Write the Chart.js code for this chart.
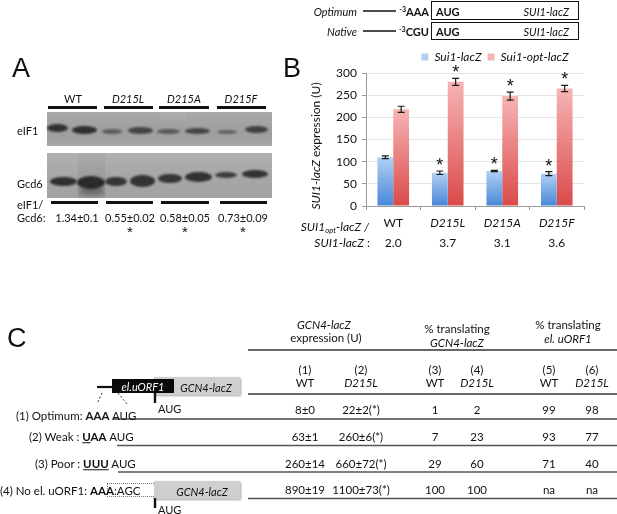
<!DOCTYPE html>
<html><head><meta charset="utf-8">
<script src="https://cdn.jsdelivr.net/npm/chart.js@4.4.1/dist/chart.umd.min.js"></script>
<style>
html,body{margin:0;padding:0;background:#fff;}
body{width:617px;height:514px;position:relative;overflow:hidden;font-family:Lato,'Open Sans',sans-serif;color:#111;}
.t{position:absolute;white-space:nowrap;line-height:1;}
.t sub{font-size:0.65em;vertical-align:-0.25em;line-height:0;}
.t sup{font-size:0.65em;vertical-align:0.45em;line-height:0;}
#chartWrap{position:absolute;left:300px;top:45px;width:317px;height:215px;}
#lines{position:absolute;left:0;top:0;z-index:3;}
.blk{position:absolute;}
.band{position:absolute;border-radius:50%;background:#262626;filter:blur(1.3px);}
</style></head><body>
<svg id="lines" width="617" height="514"></svg>
<div id="chartWrap"><canvas id="c" width="317" height="215"></canvas></div>
<script>
// ---------- Panel B data ----------
const categories = ['WT', 'D215L', 'D215A', 'D215F'];
const seriesNames = ['Sui1-lacZ', 'Sui1-opt-lacZ'];
const sui1Values = [110, 75, 79, 73];
const sui1Errors = [3, 4, 1.5, 4.5];
const sui1OptValues = [218, 280, 248, 265];
const sui1OptErrors = [7, 8, 9, 7];
const sui1Significant = [false, true, true, true];
const sui1OptSignificant = [false, true, true, true];
const ratioLabels = ['2.0', '3.7', '3.1', '3.6'];
const yMin = 0, yMax = 300, yStep = 50;

// ---------- Panel A data ----------
const blotGroups = ['WT', 'D215L', 'D215A', 'D215F'];
const eif1Gcd6Ratios = ['1.34±0.1', '0.55±0.02', '0.58±0.05', '0.73±0.09'];
const eif1Significant = [false, true, true, true];

// ---------- Panel C data ----------
const gcn4WT = ['8±0', '63±1', '260±14', '890±19'];
const gcn4D215L = ['22±2(*)', '260±6(*)', '660±72(*)', '1100±73(*)'];
const pctGcn4WT = ['1', '7', '29', '100'];
const pctGcn4D215L = ['2', '23', '60', '100'];
const pctUorfWT = ['99', '93', '71', 'na'];
const pctUorfD215L = ['98', '77', '40', 'na'];

// ---------- helpers ----------
function T(x, y, html, o = {}) {
  const d = document.createElement('div');
  d.className = 't';
  d.innerHTML = html;
  const a = o.a || 'c';
  d.style.left = x + 'px';
  d.style.top = y + 'px';
  d.style.fontSize = (o.s || 11.5) + 'px';
  if (o.i) d.style.fontStyle = 'italic';
  if (o.b) d.style.fontWeight = 'bold';
  if (o.f) d.style.fontFamily = o.f;
  if (o.c) d.style.color = o.c;
  d.style.zIndex = o.z || 4;
  let tr = `translate(${a === 'c' ? '-50%' : a === 'r' ? '-100%' : '0'},-50%)`;
  if (o.rot) tr += ` rotate(${o.rot}deg)`;
  d.style.transform = tr;
  document.body.appendChild(d);
  return d;
}
function B(x, y, w, h, style) {
  const d = document.createElement('div');
  d.className = 'blk';
  d.style.cssText += `left:${x}px;top:${y}px;width:${w}px;height:${h}px;` + (style || '');
  document.body.appendChild(d);
  return d;
}
const svg = document.getElementById('lines');
function L(x1, y1, x2, y2, w = 1.3, c = '#444', dash) {
  const l = document.createElementNS('http://www.w3.org/2000/svg', 'line');
  l.setAttribute('x1', x1); l.setAttribute('y1', y1);
  l.setAttribute('x2', x2); l.setAttribute('y2', y2);
  l.setAttribute('stroke', c); l.setAttribute('stroke-width', w);
  if (dash) l.setAttribute('stroke-dasharray', dash);
  svg.appendChild(l);
}
function R(x, y, w, h, sw = 1, c = '#111') {
  const r = document.createElementNS('http://www.w3.org/2000/svg', 'rect');
  r.setAttribute('x', x); r.setAttribute('y', y);
  r.setAttribute('width', w); r.setAttribute('height', h);
  r.setAttribute('fill', 'none'); r.setAttribute('stroke', c); r.setAttribute('stroke-width', sw);
  svg.appendChild(r);
}

// ---------- Panel letters ----------
T(12, 68, 'A', { a: 'l', s: 27, f: '"Liberation Sans",Arial,sans-serif' });
T(283, 68, 'B', { a: 'l', s: 27, f: '"Liberation Sans",Arial,sans-serif' });
T(7, 338, 'C', { a: 'l', s: 27, f: '"Liberation Sans",Arial,sans-serif' });

// ---------- Top-right construct diagram ----------
T(357, 11, 'Optimum', { a: 'r', i: 1, s: 11 });
T(357, 31, 'Native', { a: 'r', i: 1, s: 11 });
L(363, 11, 396, 11, 1.6, '#111');
L(363, 31, 396, 31, 1.6, '#111');
T(429, 11, '<sup>-3</sup>AAA', { a: 'r', b: 1, s: 11 });
T(429, 31, '<sup>-3</sup>CGU', { a: 'r', b: 1, s: 11 });
R(431.5, 1.5, 147, 18);
R(431.5, 22.5, 147, 17);
T(436, 11, 'AUG', { a: 'l', b: 1, s: 11 });
T(436, 31, 'AUG', { a: 'l', b: 1, s: 11 });
T(569, 11, 'SUI1-lacZ', { a: 'r', i: 1, s: 11 });
T(569, 31, 'SUI1-lacZ', { a: 'r', i: 1, s: 11 });

// ---------- Panel A: western blot ----------
const groupCenters = [73, 128, 184, 241];
const topBars = [[48, 97], [104, 153], [159, 209], [217, 266]];
const botBars = [[51, 98], [106, 153], [161, 209], [220, 267]];
const valCenters = [77, 130, 185, 243];
blotGroups.forEach((g, i) => {
  T(groupCenters[i], 98, g, { s: 11, i: i > 0 });
  B(topBars[i][0], 105.5, topBars[i][1] - topBars[i][0], 3.2, 'background:#111;');
  B(botBars[i][0], 201, botBars[i][1] - botBars[i][0], 3.2, 'background:#111;');
  T(valCenters[i], 216.5, eif1Gcd6Ratios[i], { s: 11 });
  if (eif1Significant[i]) T(valCenters[i], 231, '*', { s: 15, f: '"Liberation Sans",Arial,sans-serif' });
});
B(47, 112, 225, 34, 'background:linear-gradient(#a9a9a9,#9e9e9e 60%,#a6a6a6);');
B(47, 153, 225, 45, 'background:linear-gradient(#b0b0b0,#a7a7a7 50%,#a2a2a2);');
B(78, 153, 27, 45, 'background:linear-gradient(rgba(0,0,0,0.03),rgba(0,0,0,0.09));');
B(160, 112, 26, 8, 'background:rgba(255,255,255,0.05);');
const eifBands = [[47,68,124,132,0.9],[72,97,126,134,0.92],[102,122,129,134,0.55],[128,153,127,134,0.75],[157,180,129,134,0.6],[185,210,128,134,0.75],[217,237,130,134,0.5],[245,268,126,133,0.78]];
const gcdBands = [[50,77,177,186,0.92],[77,105,176,189,0.95],[105,127,177,186,0.88],[130,155,175,187,0.9],[158,182,174,183,0.88],[185,212,172,182,0.9],[215,237,172,178,0.82],[242,268,170,178,0.9]];
eifBands.concat(gcdBands).forEach(b => {
  const d = B(b[0], b[2], b[1] - b[0], b[3] - b[2], `opacity:${b[4]};`);
  d.className = 'band';
});
B(80, 186, 24, 9, 'border-radius:40%;background:rgba(30,30,30,0.35);filter:blur(2px);');
T(17, 130, 'eIF1', { a: 'l', s: 11 });
T(17, 183, 'Gcd6', { a: 'l', s: 11 });
T(17, 204, 'eIF1/', { a: 'l', s: 11 });
T(17, 216.5, 'Gcd6:', { a: 'l', s: 11 });

// ---------- Panel B: labels around the chart ----------
T(316, 146, '<i>SUI1-lacZ</i> expression (U)', { s: 12, rot: -90 });
T(369, 227, '<i>SUI1<sub>opt</sub>-lacZ /</i>', { a: 'r', s: 12 });
T(370, 243, '<i>SUI1-lacZ</i> :', { a: 'r', s: 12 });

// ---------- Panel C ----------
// construct diagram
L(97, 387, 113, 387, 2.2, '#111');
L(102, 393, 97, 404, 1, '#333', '2,2');
L(118, 393, 127, 404, 1, '#333', '2,2');
B(154, 377, 86, 18, 'background:#cfcfcf;box-shadow:1px 1px 2px rgba(0,0,0,0.35);z-index:1;');
B(112, 379, 62, 14, 'background:#0a0a0a;z-index:2;');
T(143, 386, 'el.uORF1', { i: 1, s: 11, c: '#fff', z: 5 });
T(206, 387, 'GCN4-lacZ', { i: 1, s: 11, z: 5 });
L(155, 393, 155, 403, 2.4, '#111');
T(158, 408, 'AUG', { a: 'l', s: 11 });

B(107, 483, 47, 14, 'border:1px dotted #777;border-right:none;box-sizing:border-box;');
B(154, 481, 86, 18, 'background:#cfcfcf;box-shadow:1px 1px 2px rgba(0,0,0,0.35);z-index:1;');
T(202, 491, 'GCN4-lacZ', { i: 1, s: 11, z: 5 });
L(155, 498, 155, 508, 2.4, '#111');
T(158, 509, 'AUG', { a: 'l', s: 11 });

// row labels
T(16, 416, '(1) Optimum: <b>AAA</b> AUG', { a: 'l', s: 11.5 });
T(29, 437, '(2) Weak : <b><u>U</u>AA</b> AUG', { a: 'l', s: 11.5 });
T(35, 464, '(3) Poor : <b><u>UUU</u></b> AUG', { a: 'l', s: 11.5 });
T(0, 491, '(4) No el. uORF1: <b>AAA</b><span style="letter-spacing:0">:</span>AGC', { a: 'l', s: 11.5 });

// table headers
T(324, 325, 'GCN4-lacZ', { i: 1, s: 11.5 });
T(326, 338, 'expression (U)', { s: 11.5 });
T(457, 329, '% translating', { s: 11.5 });
T(457, 343, 'GCN4-lacZ', { i: 1, s: 11.5 });
T(568, 325, '% translating', { s: 11.5 });
T(568, 339, 'el. uORF1', { i: 1, s: 11.5 });
L(248, 350, 617, 350, 1.5, '#333');
const colX = [305, 361, 435, 477, 549, 592];
const colNames = ['WT', 'D215L', 'WT', 'D215L', 'WT', 'D215L'];
colX.forEach((x, i) => {
  T(x, 370, '(' + (i + 1) + ')', { s: 11.5 });
  T(x, 383, colNames[i], { s: 11.5, i: i % 2 === 1 });
});
L(248, 394, 617, 394, 1.5, '#333');
const rowY = [410, 437, 463.5, 490];
const cols = [gcn4WT, gcn4D215L, pctGcn4WT, pctGcn4D215L, pctUorfWT, pctUorfD215L];
rowY.forEach((y, r) => {
  cols.forEach((col, c) => T(colX[c], y, col[r], { s: 11.5 }));
});
L(113, 419, 617, 419, 1.4, '#444');
L(117, 445.5, 617, 445.5, 1.4, '#555');
L(118, 472, 617, 472, 1.4, '#555');
L(248, 498.5, 617, 498.5, 1.4, '#555');

// ---------- Panel B chart ----------
const blueTop = '#b2d0f3', blueBot = '#4787d8', blueMid = '#6fa3e6';
const redTop = '#f7b4b4', redBot = '#da4a4a', redMid = '#ec7d7d';
function barFill(c0, c1, cm) {
  return (ctx) => {
    const chart = ctx.chart;
    if (ctx.type !== 'data' || !chart.chartArea || !chart.scales.y) return cm;
    const y = chart.scales.y;
    const yt = y.getPixelForValue(ctx.raw), yb = y.getPixelForValue(0);
    if (!isFinite(yt) || !isFinite(yb)) return cm;
    const g = chart.ctx.createLinearGradient(0, yt, 0, yb);
    g.addColorStop(0, c0); g.addColorStop(1, c1);
    return g;
  };
}
const errorBarPlugin = {
  id: 'errorBars',
  afterDatasetsDraw(chart) {
    const { ctx } = chart;
    const y = chart.scales.y, x = chart.scales.x;
    const errs = [sui1Errors, sui1OptErrors];
    const sig = [sui1Significant, sui1OptSignificant];
    chart.data.datasets.forEach((ds, di) => {
      const meta = chart.getDatasetMeta(di);
      meta.data.forEach((bar, i) => {
        const v = ds.data[i], e = errs[di][i];
        const yt = y.getPixelForValue(v + e), yb = y.getPixelForValue(v - e);
        ctx.save();
        ctx.strokeStyle = '#1a1a1a'; ctx.lineWidth = 1.2;
        ctx.beginPath();
        ctx.moveTo(bar.x, yt); ctx.lineTo(bar.x, yb);
        ctx.moveTo(bar.x - 3.5, yt); ctx.lineTo(bar.x + 3.5, yt);
        ctx.moveTo(bar.x - 3.5, yb); ctx.lineTo(bar.x + 3.5, yb);
        ctx.stroke();
        if (sig[di][i]) {
          ctx.fillStyle = '#111';
          ctx.font = '18px "Liberation Sans", Arial, sans-serif';
          ctx.textAlign = 'center'; ctx.textBaseline = 'top';
          ctx.fillText('*', bar.x, yt - 14);
        }
        ctx.restore();
      });
    });
    ctx.save();
    ctx.font = '12px Lato, sans-serif'; ctx.fillStyle = '#111';
    ctx.textAlign = 'center'; ctx.textBaseline = 'middle';
    ratioLabels.forEach((r, i) => ctx.fillText(r, x.getPixelForValue(i), chart.chartArea.bottom + 37.5));
    ctx.restore();
  }
};
const LEG_DX = 53;
const legendShift = {
  id: 'legendShift',
  afterLayout(chart) {
    const l = chart.legend;
    if (l) { l.left += LEG_DX; l.right += LEG_DX; }
  }
};

new Chart(document.getElementById('c'), {
  type: 'bar',
  data: {
    labels: categories,
    datasets: [
      { label: seriesNames[0], data: sui1Values, backgroundColor: barFill(blueTop, blueBot, blueMid),
        borderWidth: 0, categoryPercentage: 0.58, barPercentage: 1.0 },
      { label: seriesNames[1], data: sui1OptValues, backgroundColor: barFill(redTop, redBot, redMid),
        borderWidth: 0, categoryPercentage: 0.58, barPercentage: 1.0 }
    ]
  },
  options: {
    responsive: false,
    animation: false,
    layout: { padding: { left: 0, right: 33, top: 0, bottom: 0 } },
    plugins: {
      legend: {
        position: 'top',
        labels: { boxWidth: 7, boxHeight: 7, padding: 6, color: '#111',
          font: { family: 'Lato', size: 12, style: 'italic' } }
      },
      tooltip: { enabled: false }
    },
    scales: {
      x: {
        grid: { display: true, drawOnChartArea: false, tickLength: 4, color: '#9a9a9a', offset: true },
        border: { color: '#9a9a9a' },
        ticks: { padding: 6, color: '#111',
          font: (c) => ({ family: 'Lato', size: 12, style: c.index > 0 ? 'italic' : 'normal' }) },
        afterFit(scale) { scale.height = 54; }
      },
      y: {
        min: yMin, max: yMax,
        ticks: { stepSize: yStep, padding: 5, color: '#111', font: { family: 'Lato', size: 12 } },
        grid: { color: '#e4e4e4', tickColor: '#9a9a9a', tickLength: 4 },
        border: { color: '#9a9a9a' },
        afterFit(scale) { scale.width = 66; }
      }
    }
  },
  plugins: [errorBarPlugin, legendShift]
});
</script>
</body></html>
